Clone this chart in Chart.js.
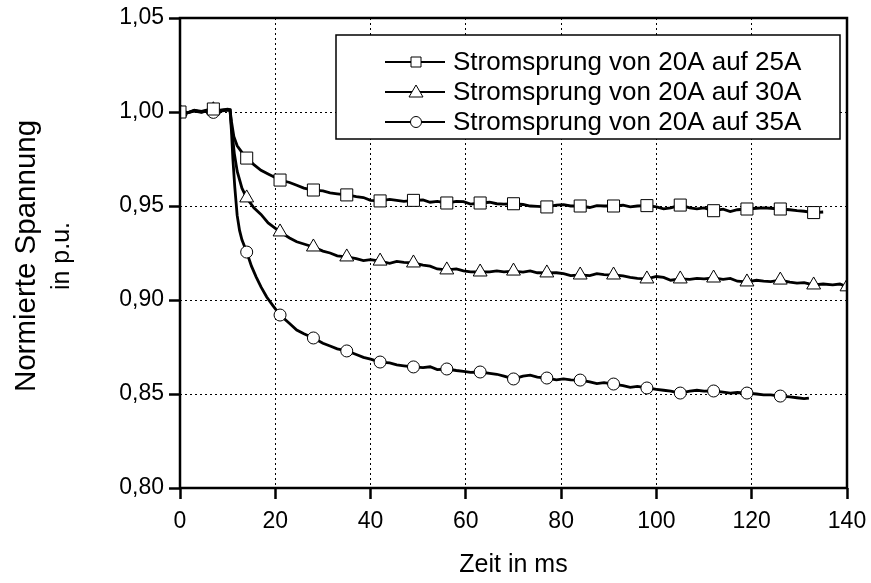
<!DOCTYPE html>
<html>
<head>
<meta charset="utf-8">
<script src="https://cdn.jsdelivr.net/npm/chart.js@4.4.1/dist/chart.umd.min.js"></script>
<style>
  html, body { margin: 0; padding: 0; background: #fff; }
  #chart-container { width: 871px; height: 583px; }
</style>
</head>
<body>
<div id="chart-container"><canvas id="chart"></canvas></div>
<script>
const seriesNames = ['Stromsprung von 20A auf 25A', 'Stromsprung von 20A auf 30A', 'Stromsprung von 20A auf 35A'];
const yTitle = ['Normierte Spannung', 'in p.u.'];
const xTicks = [0, 20, 40, 60, 80, 100, 120, 140];
const yTicks = [0.80, 0.85, 0.90, 0.95, 1.00, 1.05];

// time stamps in ms
const tPre = [0, 1.5, 3, 4.5, 6, 7, 8.5, 10, 10.5];
const tBlocks = [23, 24.5, 26, 28, 30, 31.5, 33, 35, 37, 38.5, 40, 42, 44, 45.5, 47, 49,
  51, 52.5, 54, 56, 58, 59.5, 61, 63, 65, 66.5, 68, 70, 72, 73.5, 75, 77,
  79, 80.5, 82, 84, 86, 87.5, 89, 91, 93, 94.5, 96, 98, 100, 101.5, 103, 105,
  107, 108.5, 110, 112, 114, 115.5, 117, 119, 121, 122.5, 124, 126, 128, 129.5, 131, 133];

const t25 = [...tPre, 10.8, 11.3, 12, 13, 14, 15.5, 17, 18.5, 21, ...tBlocks, 135];
const v25 = [1.000, 0.9995, 1.001, 1.0003, 1.0012, 1.0016, 1.001, 1.0015, 1.0012,
  0.995, 0.987, 0.982, 0.9785, 0.9755,
  0.972, 0.969, 0.967, 0.9638,
  0.9625, 0.961, 0.9595, 0.9585,
  0.958, 0.957, 0.9565, 0.9559,
  0.955, 0.9545, 0.953, 0.9527,
  0.9535, 0.953, 0.9525, 0.953,
  0.9532, 0.952, 0.9525, 0.9516,
  0.9525, 0.9523, 0.951, 0.9516,
  0.952, 0.9512, 0.951, 0.9512,
  0.9508, 0.950, 0.9498, 0.9495,
  0.9505, 0.9507, 0.950, 0.950,
  0.9492, 0.9502, 0.950, 0.950,
  0.9505, 0.9495, 0.950, 0.9502,
  0.9495, 0.9485, 0.949, 0.9505,
  0.949, 0.9485, 0.949, 0.9475,
  0.9483, 0.947, 0.948, 0.9484,
  0.9488, 0.949, 0.9488, 0.9484,
  0.948, 0.9475, 0.9472, 0.9465,
  0.9468];

const t30 = [...tPre, 10.9, 11.4, 12, 13, 14, 15.5, 17, 18.5, 21, ...tBlocks, 135, 137, 138.5, 140];
const v30 = [1.000, 0.9995, 1.0008, 1.000, 1.001, 1.0012, 1.0008, 1.0012, 1.001,
  0.990, 0.978, 0.9685, 0.9595, 0.9543,
  0.949, 0.9455, 0.941, 0.9362,
  0.933, 0.931, 0.9298, 0.9282,
  0.926, 0.925, 0.9235, 0.9229,
  0.922, 0.921, 0.9215, 0.9207,
  0.9195, 0.9205, 0.920, 0.9197,
  0.9185, 0.918, 0.9165, 0.916,
  0.9165, 0.9155, 0.915, 0.9149,
  0.915, 0.9155, 0.915, 0.9154,
  0.9148, 0.9155, 0.9145, 0.9144,
  0.9145, 0.914, 0.913, 0.9133,
  0.913, 0.914, 0.9135, 0.9133,
  0.9128, 0.912, 0.9115, 0.9112,
  0.9125, 0.912, 0.9105, 0.9112,
  0.911, 0.9115, 0.9112, 0.9117,
  0.911, 0.9115, 0.910, 0.9096,
  0.9105, 0.910, 0.9098, 0.9106,
  0.9095, 0.909, 0.9092, 0.908,
  0.9085, 0.908, 0.9085, 0.907];

const t35 = [...tPre, 10.8, 11.1, 11.5, 12, 12.5, 13, 14, 15, 16, 17, 18.2, 19.5, 21, ...tBlocks.slice(0, 60), 128, 129.5, 131, 132];
const v35 = [1.000, 0.9995, 1.0005, 0.9998, 1.0008, 0.9998, 1.0005, 1.001, 1.001,
  0.990, 0.975, 0.960, 0.945, 0.937, 0.932, 0.9255,
  0.918, 0.9122, 0.907, 0.9016, 0.897, 0.892,
  0.8875, 0.884, 0.882, 0.8798,
  0.877, 0.8755, 0.874, 0.8729,
  0.871, 0.8695, 0.8685, 0.867,
  0.8665, 0.8655, 0.865, 0.8644,
  0.864, 0.8645, 0.863, 0.8633,
  0.8625, 0.862, 0.8615, 0.8617,
  0.861, 0.8605, 0.8595, 0.858,
  0.8595, 0.860, 0.859, 0.8585,
  0.8575, 0.858, 0.8575, 0.8574,
  0.8565, 0.8555, 0.856, 0.8553,
  0.8545, 0.8535, 0.854, 0.8532,
  0.8525, 0.852, 0.8515, 0.8505,
  0.8515, 0.852, 0.8515, 0.8516,
  0.851, 0.8505, 0.8508, 0.8505,
  0.850, 0.8495, 0.8495, 0.8489,
  0.8485, 0.848, 0.8475, 0.8478];

const FONT = "'Liberation Sans', Arial, sans-serif";
const markerEvery = 7;
const styles = [
  { pointStyle: 'rect', radius: 8.5 },
  { pointStyle: 'triangle', radius: 8 },
  { pointStyle: 'circle', radius: 6 }
];

function makeSet(i, t, v) {
  return {
    label: seriesNames[i],
    data: t.map((x, k) => ({ x: x, y: v[k] })),
    borderColor: '#000',
    borderWidth: 2.8,
    backgroundColor: '#fff',
    pointStyle: styles[i].pointStyle,
    pointRadius: c => (t[c.dataIndex] % markerEvery === 0 ? styles[i].radius : 0),
    pointBackgroundColor: '#fff',
    pointBorderColor: '#000',
    pointBorderWidth: 1,
    tension: 0
  };
}

// box frame, y title and in-plot legend
const framePlugin = {
  id: 'frame',
  afterDraw(chart) {
    const { ctx, chartArea: a } = chart;
    ctx.save();
    ctx.strokeStyle = '#000';
    ctx.lineWidth = 2.5;
    ctx.setLineDash([]);
    ctx.strokeRect(a.left, a.top, a.right - a.left, a.bottom - a.top);

    // y axis title, two lines
    const cy = 256;
    ctx.fillStyle = '#000';
    ctx.textAlign = 'center';
    ctx.textBaseline = 'middle';
    ctx.save();
    ctx.translate(27, cy);
    ctx.rotate(-Math.PI / 2);
    ctx.font = '29.5px ' + FONT;
    ctx.fillText(yTitle[0], 0, 0);
    ctx.restore();
    ctx.save();
    ctx.translate(62, cy);
    ctx.rotate(-Math.PI / 2);
    ctx.font = '25px ' + FONT;
    ctx.fillText(yTitle[1], 0, 0);
    ctx.restore();

    const bx = a.left + 156, by = a.top + 17, bw = 504, bh = 104;
    ctx.fillStyle = '#fff';
    ctx.fillRect(bx, by, bw, bh);
    ctx.lineWidth = 1.5;
    ctx.strokeRect(bx, by, bw, bh);
    ctx.font = '26px ' + FONT;
    ctx.textBaseline = 'middle';
    for (let i = 0; i < 3; i++) {
      const y = by + 27 + i * 30;
      ctx.strokeStyle = '#000';
      ctx.lineWidth = 2;
      ctx.beginPath();
      ctx.moveTo(bx + 49, y);
      ctx.lineTo(bx + 109, y);
      ctx.stroke();
      const mx = bx + 80;
      ctx.fillStyle = '#fff';
      ctx.lineWidth = 1;
      ctx.beginPath();
      if (i === 0) {
        ctx.rect(mx - 5, y - 5, 10, 10);
      } else if (i === 1) {
        ctx.moveTo(mx, y - 7);
        ctx.lineTo(mx + 7, y + 5);
        ctx.lineTo(mx - 7, y + 5);
        ctx.closePath();
      } else {
        ctx.arc(mx, y, 5.5, 0, Math.PI * 2);
      }
      ctx.fill();
      ctx.stroke();
      ctx.fillStyle = '#000';
      ctx.textAlign = 'left';
      ctx.fillText(seriesNames[i], bx + 117, y + 1);
    }
    ctx.restore();
  }
};

const ctx = document.getElementById('chart');
const chart = new Chart(ctx, {
  type: 'line',
  data: {
    datasets: [makeSet(0, t25, v25), makeSet(1, t30, v30), makeSet(2, t35, v35)]
  },
  options: {
    responsive: true,
    maintainAspectRatio: false,
    animation: false,
    events: [],
    layout: { padding: { top: 18, right: 24, left: 0, bottom: 0 } },
    plugins: { legend: { display: false }, tooltip: { enabled: false } },
    scales: {
      x: {
        type: 'linear',
        min: 0, max: 140,
        afterFit: s => { s.height = 95; s.paddingLeft = 0; s.paddingRight = 0; },
        afterBuildTicks: s => { s.ticks = xTicks.map(v => ({ value: v })); },
        ticks: { color: '#000', font: { family: FONT, size: 23 }, padding: 9, maxRotation: 0 },
        grid: { color: '#000', lineWidth: 1, tickLength: 11, tickWidth: 2.5, tickColor: '#000', tickBorderDash: [] },
        border: { display: false, dash: [2, 3] },
        title: { display: true, text: 'Zeit in ms', color: '#000', font: { family: FONT, size: 25 }, padding: { bottom: 3, top: 0 } }
      },
      y: {
        min: 0.80, max: 1.05,
        afterFit: s => { s.width = 180; s.paddingTop = 0; s.paddingBottom = 0; },
        afterBuildTicks: s => { s.ticks = yTicks.map(v => ({ value: v })); },
        ticks: {
          color: '#000', font: { family: FONT, size: 23 }, padding: 5,
          callback: v => v.toFixed(2).replace('.', ',')
        },
        grid: { color: '#000', lineWidth: 1, tickLength: 11, tickWidth: 2.5, tickColor: '#000', tickBorderDash: [] },
        border: { display: false, dash: [2, 3] },
        title: { display: false }
      }
    }
  },
  plugins: [framePlugin]
});
</script>
</body>
</html>
